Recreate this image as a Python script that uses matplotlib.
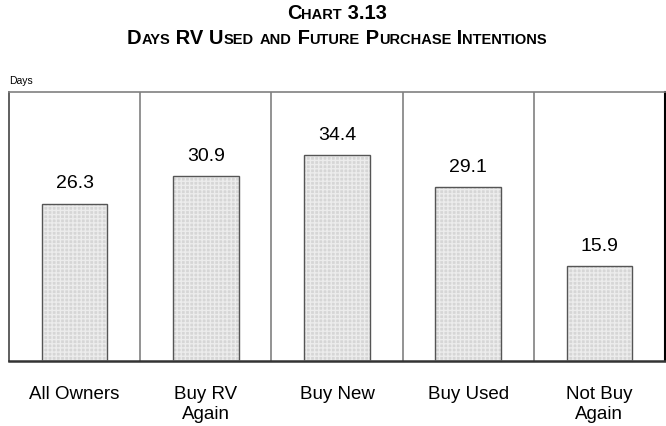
import matplotlib
matplotlib.use("Agg")
import matplotlib.pyplot as plt
from matplotlib.offsetbox import TextArea, HPacker, VPacker, AnnotationBbox

# ----------------- Data -----------------
categories = ["All Owners", "Buy RV\nAgain", "Buy New", "Buy Used", "Not Buy\nAgain"]
days_used = [26.3, 30.9, 34.4, 29.1, 15.9]
chart_number = "Chart 3.13"
chart_title = "Days RV Used and Future Purchase Intentions"

FONT = ["Liberation Sans", "DejaVu Sans"]
plt.rcParams["font.family"] = FONT


def small_caps_row(text, big, small):
    """Build a row of text pieces that imitates small caps."""
    pieces = []
    buf, buf_small = "", None
    for ch in text:
        is_small = ch.islower()
        if buf_small is not None and is_small != buf_small:
            pieces.append((buf, buf_small))
            buf = ""
        buf += ch.upper()
        buf_small = is_small
    if buf:
        pieces.append((buf, buf_small))
    areas = [TextArea(s, textprops=dict(fontsize=small if sm else big,
                                        fontweight="bold", family=FONT))
             for s, sm in pieces]
    return HPacker(children=areas, align="baseline", pad=0, sep=0)


fig = plt.figure(figsize=(6.66, 4.26), dpi=100)
ax = fig.add_axes([9 / 666, 65 / 426, 656 / 666, 269 / 426])

n = len(categories)
x = list(range(n))

# stippled fill, then the outline on top
ax.bar(x, days_used, width=0.5, color="#d6d6d6", edgecolor="#ececec",
       linewidth=0, hatch="++++", zorder=2)
ax.bar(x, days_used, width=0.5, fill=False, edgecolor="#555555",
       linewidth=1.0, zorder=3)

for xi, v in zip(x, days_used):
    ax.text(xi, v + 1.9, f"{v:.1f}", ha="center", va="bottom",
            fontsize=14, color="black")

# vertical dividers between groups
for xi in range(n - 1):
    ax.axvline(xi + 0.5, color="#808080", linewidth=1.2, zorder=1)

ax.set_xlim(-0.5, n - 0.5)
ax.set_ylim(0, 45)
ax.set_xticks(x)
ax.set_xticklabels(categories, fontsize=13.5, linespacing=1.2)
ax.tick_params(axis="x", length=0, pad=18)
ax.set_yticks([])

ax.spines["left"].set_color("#444444")
ax.spines["top"].set_color("#808080")
ax.spines["right"].set_color("black")
ax.spines["bottom"].set_color("#333333")
ax.spines["left"].set_linewidth(1.2)
ax.spines["top"].set_linewidth(1.2)
ax.spines["right"].set_linewidth(1.5)
ax.spines["bottom"].set_linewidth(1.8)

fig.text(9 / 666, 1 - 84 / 426, "Days", fontsize=7.5, ha="left",
         va="baseline")

# two-line title in small caps
title_box = VPacker(children=[small_caps_row(chart_number, 14.5, 10.5),
                              small_caps_row(chart_title, 14.5, 10.5)],
                    align="center", pad=0, sep=4)
ab = AnnotationBbox(title_box, (337 / 666, 1 - 26 / 426),
                    xycoords="figure fraction", frameon=False,
                    box_alignment=(0.5, 0.5))
fig.add_artist(ab)

fig.savefig("out.png", dpi=100)
plt.close(fig)
